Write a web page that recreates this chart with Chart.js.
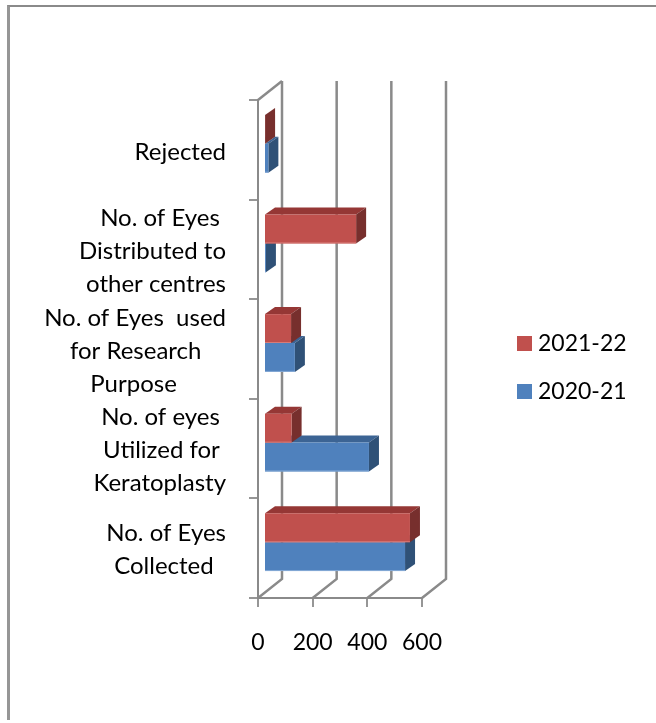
<!DOCTYPE html>
<html lang="en">
<head>
    <meta charset="UTF-8">
    <title>Eyes Collected and Utilized</title>
    <script src="https://cdn.jsdelivr.net/npm/chart.js"></script>
    <style>
        html, body { margin: 0; padding: 0; background: #fff; overflow: hidden; }
        #frame { position: absolute; left: 7px; top: 5px; right: 0; bottom: 3px; border-top: 2px solid #8a8a8a; border-left: 3px solid #969696; }
        canvas { position: absolute; left: 0; top: 0; }
    </style>
</head>
<body>
    <div id="frame"></div>
    <canvas id="eyesChart" width="656" height="723"></canvas>

    <script>
        // Values, top category first
        const categories = [
            ['Rejected'],
            ['No. of Eyes ', 'Distributed to', 'other centres'],
            ['No. of Eyes  used', 'for Research    ', 'Purpose        '],
            ['No. of eyes ', 'Utilized for ', 'Keratoplasty'],
            ['No. of Eyes', 'Collected  ']
        ];
        const values2122 = [4, 337, 99, 101, 534];
        const values2021 = [16, 7, 113, 384, 516];
        const seriesNames = ['2021-22', '2020-21'];
        const xTicks = [0, 200, 400, 600];

        const fontFamily = 'Lato, "Open Sans", sans-serif';
        const gridColor = '#8a8a8a';

        // Box depth of the walls and of the bars, the bars sit part way into the box
        const wallDepth = { x: 24, y: 19 };
        const barShift = { x: 6, y: -6 };
        const barDepth = { x: 10, y: 7 };

        const faces = [
            { front: '#c0504d', top: '#953735', side: '#772f2d', edge: '#d77b78' },
            { front: '#4f81bd', top: '#3c6494', side: '#2f5177', edge: '#86aad6' }
        ];

        // Back wall lines, side wall and floor
        const wallsPlugin = {
            id: 'walls',
            beforeDatasetsDraw(chart) {
                const { ctx, chartArea, scales } = chart;
                ctx.save();
                ctx.strokeStyle = gridColor;
                ctx.lineWidth = 2.5;
                xTicks.forEach(v => {
                    const px = scales.x.getPixelForValue(v);
                    ctx.beginPath();
                    ctx.moveTo(px + wallDepth.x, chartArea.top - wallDepth.y);
                    ctx.lineTo(px + wallDepth.x, chartArea.bottom - wallDepth.y);
                    ctx.lineTo(px, chartArea.bottom);
                    ctx.stroke();
                });
                ctx.beginPath();
                ctx.moveTo(chartArea.left, chartArea.top);
                ctx.lineTo(chartArea.left + wallDepth.x, chartArea.top - wallDepth.y);
                ctx.stroke();
                ctx.restore();
            }
        };

        // Moves the bars into the box and adds top and side faces from the bar elements
        const depthPlugin = {
            id: 'depth',
            beforeDatasetDraw(chart, args) {
                const { ctx } = chart;
                const c = faces[args.index];
                ctx.save();
                ctx.translate(barShift.x, barShift.y);
                args.meta.data.forEach(bar => {
                    const p = bar.getProps(['x', 'y', 'base', 'height']);
                    const top = p.y - p.height / 2;
                    const bottom = p.y + p.height / 2;
                    ctx.fillStyle = c.top;
                    ctx.beginPath();
                    ctx.moveTo(p.base, top);
                    ctx.lineTo(p.x, top);
                    ctx.lineTo(p.x + barDepth.x, top - barDepth.y);
                    ctx.lineTo(p.base + barDepth.x, top - barDepth.y);
                    ctx.closePath();
                    ctx.fill();
                    ctx.fillStyle = c.side;
                    ctx.beginPath();
                    ctx.moveTo(p.x, top);
                    ctx.lineTo(p.x + barDepth.x, top - barDepth.y);
                    ctx.lineTo(p.x + barDepth.x, bottom - barDepth.y);
                    ctx.lineTo(p.x, bottom);
                    ctx.closePath();
                    ctx.fill();
                });
            },
            afterDatasetDraw(chart, args) {
                const { ctx } = chart;
                ctx.fillStyle = faces[args.index].edge;
                args.meta.data.forEach(bar => {
                    const p = bar.getProps(['x', 'y', 'base', 'height']);
                    ctx.fillRect(p.base, p.y + p.height / 2 - 1, p.x - p.base, 1);
                });
                ctx.restore();
            }
        };

        // Legend is drawn by hand because the text sits closer to the swatch than the built in one allows
        const legendPlugin = {
            id: 'sideLegend',
            afterDraw(chart) {
                const { ctx } = chart;
                ctx.save();
                ctx.font = '23px ' + fontFamily;
                ctx.textBaseline = 'middle';
                chart.data.datasets.forEach((ds, i) => {
                    const y = 343.5 + i * 48;
                    ctx.fillStyle = ds.backgroundColor;
                    ctx.fillRect(517, y - 7.5, 15, 15);
                    ctx.fillStyle = '#000';
                    ctx.fillText(ds.label, 538, y);
                });
                ctx.restore();
            }
        };

        new Chart(document.getElementById('eyesChart').getContext('2d'), {
            type: 'bar',
            data: {
                labels: categories,
                datasets: [
                    { label: seriesNames[0], data: values2122, backgroundColor: faces[0].front, clip: false },
                    { label: seriesNames[1], data: values2021, backgroundColor: faces[1].front, clip: false }
                ]
            },
            plugins: [wallsPlugin, depthPlugin, legendPlugin],
            options: {
                indexAxis: 'y',
                responsive: false,
                animation: false,
                layout: { padding: { top: 100, right: 234 } },
                datasets: { bar: { categoryPercentage: 0.58, barPercentage: 1 } },
                plugins: { legend: { display: false }, tooltip: { enabled: false } },
                scales: {
                    x: {
                        min: 0,
                        max: 600,
                        afterFit(scale) { scale.height = 125; },
                        afterBuildTicks(scale) { scale.ticks = xTicks.map(value => ({ value })); },
                        border: { color: gridColor, width: 2 },
                        grid: { drawOnChartArea: false, color: '#969696', lineWidth: 2, tickLength: 9 },
                        ticks: { color: '#000', padding: 22, maxRotation: 0, font: { family: fontFamily, size: 23 } }
                    },
                    y: {
                        afterFit(scale) { scale.width = 258; },
                        border: { color: gridColor, width: 2 },
                        grid: { drawOnChartArea: false, color: '#969696', lineWidth: 2, tickLength: 9 },
                        ticks: {
                            color: '#000',
                            padding: 23,
                            labelOffset: 2,
                            autoSkip: false,
                            font: { family: fontFamily, size: 24, lineHeight: 1.375 }
                        }
                    }
                }
            }
        });
    </script>
</body>
</html>
